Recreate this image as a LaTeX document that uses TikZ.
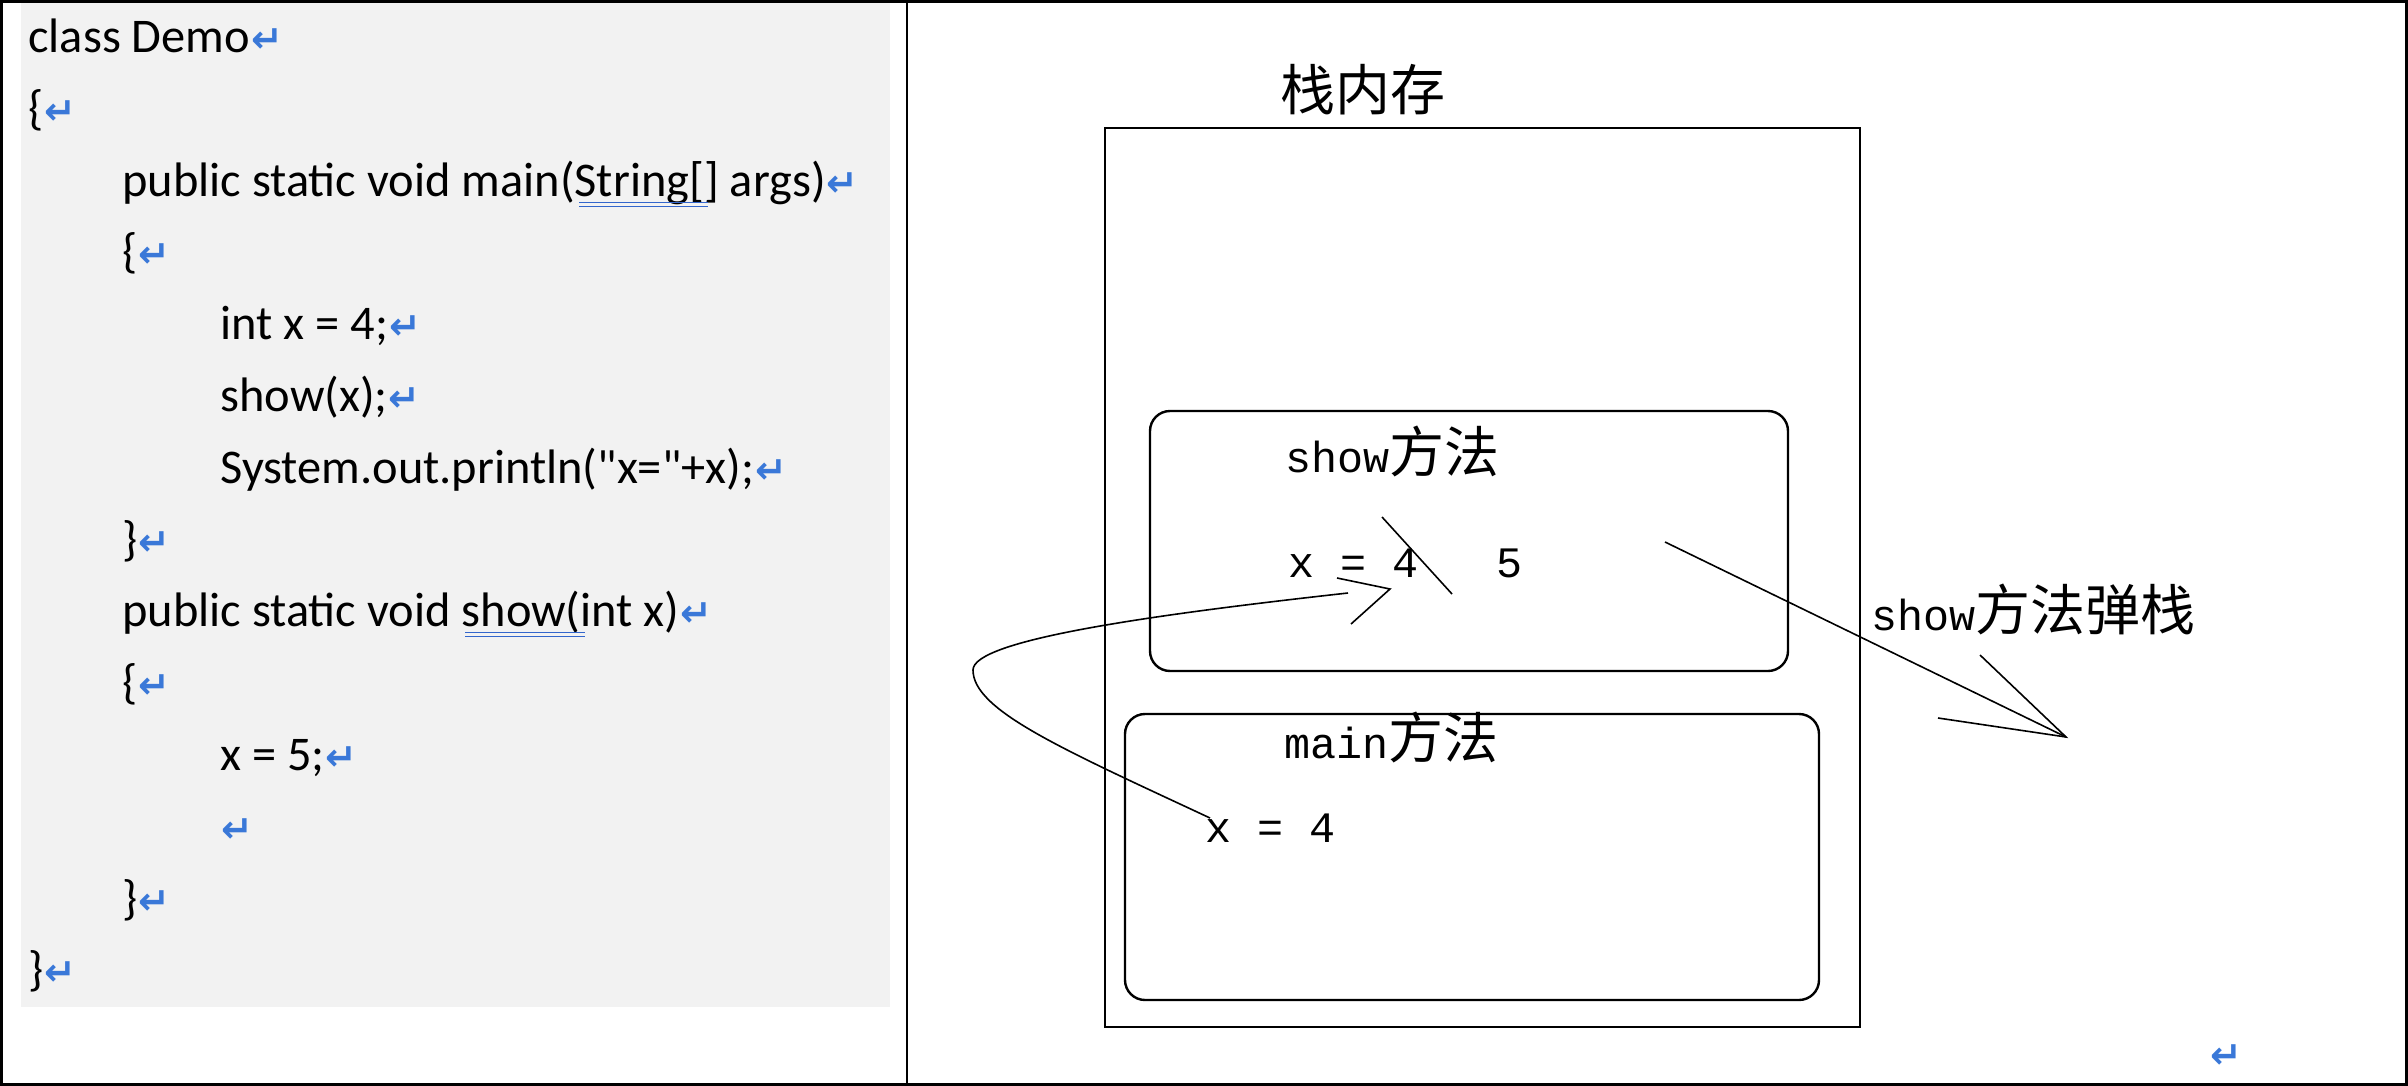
\documentclass[tikz,border=0pt]{standalone}
\usepackage{fontspec}
\setmainfont{Carlito}
\newfontfamily\codefont{Carlito}
\newfontfamily\symfont{DejaVu Sans}
\newfontfamily\zhfont{Noto Sans CJK SC}
\newfontfamily\latmono{Liberation Mono}
\definecolor{retblue}{RGB}{58,120,216}
\definecolor{ulblue}{RGB}{51,102,204}
\definecolor{codebg}{RGB}{242,242,242}
\newcommand\retmark{{\symfont\bfseries\fontsize{19}{19}\selectfont\color{retblue}\kern0.5pt\raisebox{0pt}{↵}}}
\newcommand\mymono{\latmono\fontsize{21.7}{26}\selectfont}
\newcommand\myzh{\zhfont\fontsize{27.5}{30}\selectfont}
\begin{document}
\begin{tikzpicture}[x=0.5pt,y=-0.5pt,
  codeline/.style={anchor=base west, inner sep=0pt, font=\codefont\fontsize{24.2}{28}\selectfont},
  lbl/.style={anchor=base west, inner sep=0pt, font=\mymono},
  zhlbl/.style={anchor=base west, inner sep=0pt, font=\myzh},
  stackbox/.style={draw, line width=1.1pt, inner sep=0pt},
  methodbox/.style={draw, line width=1.2pt, rounded corners=10pt, inner sep=0pt},
  thinline/.style={line width=0.8pt},
  ulline/.style={draw=ulblue, line width=0.65pt}]

\useasboundingbox (0,0) rectangle (2408,1086);

% code panel background
\fill[codebg] (21,3) rectangle (890,1007);

% outer frame and divider
\draw[line width=1.5pt] (1.5,1.5) rectangle (2406.5,1084.5);
\draw[line width=1.2pt] (907,0) -- (907,1086);

% code lines
\node[codeline] (c0)  at (28,52.5)  {class Demo\retmark};
\node[codeline] (c1)  at (28,124.3) {\{\retmark};
\node[codeline] (c2)  at (122,196.1) {public static void main(String[] args)\retmark};
\node[codeline] (c3)  at (122,267.9) {\{\retmark};
\node[codeline] (c4)  at (220,339.7) {int x = 4;\retmark};
\node[codeline] (c5)  at (220,411.5) {show(x);\retmark};
\node[codeline] (c6)  at (220,483.3) {System.out.println("x="+x);\retmark};
\node[codeline] (c7)  at (122,555.1) {\}\retmark};
\node[codeline] (c8)  at (122,626.9) {public static void show(int x)\retmark};
\node[codeline] (c9)  at (122,698.7) {\{\retmark};
\node[codeline] (c10) at (220,770.5) {x = 5;\retmark};
\node[codeline] (c11) at (220,842.3) {\retmark};
\node[codeline] (c12) at (122,914.1) {\}\retmark};
\node[codeline] (c13) at (28,985.9)  {\}\retmark};

% spell-check double underlines
\draw[ulline] (579,202.5) -- (708,202.5);
\draw[ulline] (579,206.8) -- (708,206.8);
\draw[ulline] (465,632.3) -- (585,632.3);
\draw[ulline] (465,636.7) -- (585,636.7);

% stack memory
\node[zhlbl] (title) at (1280,111) {栈内存};
\node[stackbox, minimum width=377.5pt, minimum height=449.5pt] (stack) at (1482.5,577.5) {};
\node[methodbox, minimum width=319pt, minimum height=130pt] (showbox) at (1469,541) {};
\node[methodbox, minimum width=347pt, minimum height=143pt] (mainbox) at (1472,857) {};

\node[lbl] (showlbl) at (1285,472) {show{\myzh 方法}};
\node[lbl] (showx) at (1288,577) {x = 4\ \ \ 5};
\node[lbl] (mainlbl) at (1284,758) {main{\myzh 方法}};
\node[lbl] (mainx) at (1205,842) {x = 4};
\node[lbl] (poplbl) at (1871,630) {show{\myzh 方法弹栈}};

% strike through the old value
\coordinate (st1) at (1382,517);
\coordinate (st2) at (1452,594);
\draw[thinline] (st1) -- (st2);

% call arrow: main x -> show x
\coordinate (cs) at (1210,818);
\coordinate (cl) at (973,670);
\coordinate (ce) at (1348,593);
\coordinate (ctip) at (1390,589);
\coordinate (cb1) at (1337,578);
\coordinate (cb2) at (1351,624);
\draw[thinline] (cs) .. controls (1060,748) and (973,710) .. (cl)
  .. controls (973,640) and (1150,615) .. (ce);
\draw[thinline] (cb1) -- (ctip) -- (cb2);

% pop arrow
\coordinate (ps) at (1665,542);
\coordinate (pt) at (2066,737);
\coordinate (pb1) at (1980,655);
\coordinate (pb2) at (1938,718);
\draw[thinline] (ps) -- (pt);
\draw[thinline] (pb1) -- (pt) -- (pb2);

% stray paragraph mark
\node[inner sep=0pt] (endmark) at (2226,1057) {\retmark};
\end{tikzpicture}
\end{document}
